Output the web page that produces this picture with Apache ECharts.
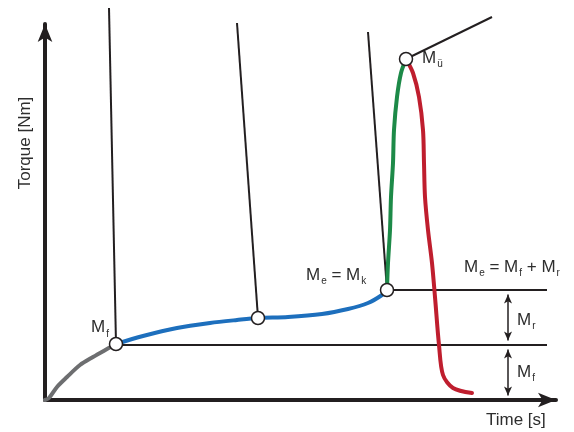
<!DOCTYPE html>
<html>
<head>
<meta charset="utf-8">
<script src="https://cdn.jsdelivr.net/npm/echarts@6/dist/echarts.min.js"></script>
<style>html,body{margin:0;padding:0;background:#fff;}#c{width:574px;height:432px;}</style>
</head>
<body>
<div id="c"></div>
<script>
// ---- data (time units / torque units on a schematic scale) ----
const grayX  = [0, 4, 12, 22, 35, 48, 62, 71];
const grayY  = [0, 2, 13, 23, 35, 43, 51, 56];
const blueX  = [71, 98, 132, 165, 192, 213, 243, 277, 303, 323, 337, 342];
const blueY  = [56, 64, 72, 77, 80, 82, 83, 86, 91, 97, 105, 110];
const greenX = [342, 343, 345, 346, 348, 349, 352, 356, 361];
const greenY = [110, 137, 170, 203, 237, 270, 303, 327, 341];
const redX   = [361, 368, 374, 378, 379, 380, 383, 387, 390, 394, 398, 408, 427];
const redY   = [341, 327, 303, 270, 237, 203, 170, 137, 103, 55, 25, 12, 7];
const leaderStartX = [64, 192, 323, 361];
const leaderStartY = [392, 377, 368, 341];
const leaderEndX   = [71, 213, 342, 447];
const leaderEndY   = [56, 82, 110, 383];
const levelStartX = [71, 342];
const levelY      = [55, 110];
const levelEndX   = 502;
const arrowX = 463;
const arrowY = [110, 55, 0];
const pointX = [71, 213, 342, 361];
const pointY = [56, 82, 110, 341];
const axisTitles = ['Time [s]', 'Torque [Nm]'];

const INK = '#231f20';
const TXT = '#2e2e2e';
const FONT = "'Liberation Sans', Arial, Helvetica, sans-serif";
const zip = (xs, ys) => xs.map((x, i) => [x, ys[i]]);

const chart = echarts.init(document.getElementById('c'), null, {renderer: 'canvas'});

const curve = (name, xs, ys, color) => ({
  type: 'line', name, data: zip(xs, ys), smooth: 0.3, showSymbol: false, clip: false,
  lineStyle: {color, width: 4, cap: 'round'}, z: 3, silent: true
});
const seg = (a, b, w) => ({
  type: 'line', data: [a, b], showSymbol: false, clip: false,
  lineStyle: {color: INK, width: w}, z: 2, silent: true
});

const series = [];
leaderStartX.forEach((x, i) => series.push(seg([x, leaderStartY[i]], [leaderEndX[i], leaderEndY[i]], 2)));
levelStartX.forEach((x, i) => series.push(seg([x, levelY[i]], [levelEndX, levelY[i]], 2)));
series.push(curve('gray', grayX, grayY, '#6d6e70'));
series.push(curve('blue', blueX, blueY, '#1d6fbd'));
series.push(curve('green', greenX, greenY, '#1d8a48'));
series.push(curve('red', redX, redY, '#bf1e2e'));
const AH = 9;
series.push({
  type: 'line', data: [], silent: true,
  markLine: {
    silent: true, animation: false,
    symbol: ['arrow', 'arrow'], symbolSize: [6, AH],
    label: {show: false},
    lineStyle: {color: INK, width: 1.5, type: 'solid'},
    data: [
      [{coord: [arrowX, arrowY[0] - AH / 2]}, {coord: [arrowX, arrowY[1] + AH / 2]}],
      [{coord: [arrowX, arrowY[1] - AH / 2]}, {coord: [arrowX, arrowY[2] + AH / 2]}]
    ]
  }
});
series.push({
  type: 'scatter', data: zip(pointX, pointY), symbol: 'circle', symbolSize: 13, z: 10, silent: true,
  itemStyle: {color: '#ffffff', borderColor: INK, borderWidth: 1.5, opacity: 1}
});

const rich = {
  m: {fontSize: 17, lineHeight: 20, verticalAlign: 'top', fontFamily: FONT, color: TXT},
  s: {fontSize: 10, lineHeight: 10, padding: [12, 0, 0, 1], verticalAlign: 'bottom', fontFamily: FONT, color: TXT}
};
const lbl = (text, x, y) => ({
  type: 'text', x, y, silent: true,
  style: {text, rich, align: 'left', verticalAlign: 'top', fill: TXT}
});

chart.setOption({
  animation: false,
  backgroundColor: '#ffffff',
  grid: {left: 45, right: 18, top: 24, bottom: 32, containLabel: false},
  xAxis: {
    type: 'value', min: 0, max: 511,
    axisLine: {show: true, onZero: false, lineStyle: {color: INK, width: 4}, symbol: ['none', 'arrow'], symbolSize: [11, 18]},
    axisTick: {show: false}, axisLabel: {show: false}, splitLine: {show: false}
  },
  yAxis: {
    type: 'value', min: 0, max: 376,
    axisLine: {show: true, onZero: false, lineStyle: {color: INK, width: 4}, symbol: ['none', 'arrow'], symbolSize: [11, 18]},
    axisTick: {show: false}, axisLabel: {show: false}, splitLine: {show: false}
  },
  series,
  graphic: [
    lbl('{m|M}{s|f}', 91, 319),
    lbl('{m|M}{s|ü}', 422, 49.5),
    lbl('{m|M}{s|e}{m| = M}{s|k}', 306, 266.5),
    lbl('{m|M}{s|e}{m| = M}{s|f}{m| + M}{s|r}', 464, 258.5),
    lbl('{m|M}{s|r}', 517, 311.5),
    lbl('{m|M}{s|f}', 517, 363.5),
    lbl('{m|' + axisTitles[0] + '}', 486, 411.5),
    {
      type: 'text', x: 25, y: 143, rotation: Math.PI / 2, silent: true,
      style: {text: axisTitles[1], fontSize: 17, fontFamily: FONT, fill: TXT, align: 'center', verticalAlign: 'middle'}
    }
  ]
});
</script>
</body>
</html>
